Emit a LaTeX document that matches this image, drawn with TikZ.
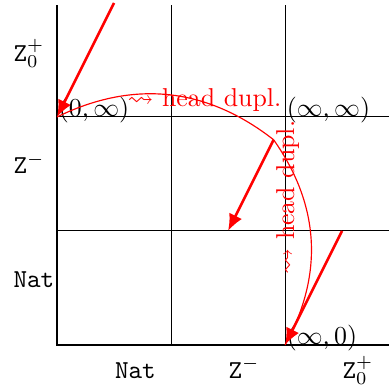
\documentclass[tikz,border=0pt]{standalone}
\usepackage{amssymb}
\usetikzlibrary{arrows.meta}
\begin{document}
\begin{tikzpicture}[x=1.55cm,y=1.55cm,
  gridline/.style={line width=0.4pt,black},
  axisline/.style={line width=0.9pt,black},
  movearrow/.style={red,line width=1pt,-{Latex[length=6.5pt,width=5.5pt]}},
  dupcurve/.style={red,line width=0.45pt},
  ptlabel/.style={anchor=base west,inner sep=0pt,xshift=0.5pt},
  axlabel/.style={anchor=base west,inner sep=0pt},
  duplabel/.style={anchor=base west,inner sep=0pt,red}]
\useasboundingbox (-0.5,-0.368) rectangle (2.912,3.026);
% grid
\coordinate (O) at (0,0);
\coordinate (Otop) at (0,2.98);
\coordinate (Oright) at (2.95,0);
\coordinate (X1) at (1,0);
\coordinate (X1t) at (1,2.98);
\coordinate (X2) at (2,0);
\coordinate (X2t) at (2,2.98);
\coordinate (Y1) at (0,1);
\coordinate (Y1r) at (2.95,1);
\coordinate (Y2) at (0,2);
\coordinate (Y2r) at (2.95,2);
\draw[gridline] (X1) -- (X1t);
\draw[gridline] (X2) -- (X2t);
\draw[gridline] (Y1) -- (Y1r);
\draw[gridline] (Y2) -- (Y2r);
\draw[axisline] (Otop) -- (O) -- (Oright);
% axis labels
\node[axlabel] (l1) at (-0.386,0.5) {\texttt{Nat}};
\node[axlabel] (l2) at (-0.386,1.5) {$\mathtt{Z}^{-}$};
\node[axlabel] (l3) at (-0.386,2.49) {$\mathtt{Z}_0^{+}$};
\node[axlabel] (b1) at (0.505,-0.29) {\texttt{Nat}};
\node[axlabel] (b2) at (1.5,-0.29) {$\mathtt{Z}^{-}$};
\node[axlabel] (b3) at (2.5,-0.29) {$\mathtt{Z}_0^{+}$};
% points
\coordinate (A) at (0,2);
\coordinate (B) at (2,2);
\coordinate (C) at (2,0);
\node[ptlabel] (la) at (A) {$(0,\infty)$};
\node[ptlabel] (lb) at (B) {$(\infty,\infty)$};
\node[ptlabel] (lc) at (C) {$(\infty,0)$};
% red moves
\coordinate (S1) at (0.5,3);
\coordinate (P) at (1.9,1.8);
\coordinate (E2) at (1.5,1);
\coordinate (S3) at (2.5,1);
\draw[dupcurve] (P) to[bend right=32] (A);
\draw[dupcurve] (P) to[bend left=32] (C);
\draw[movearrow] (S1) -- (A);
\draw[movearrow] (P) -- (E2);
\draw[movearrow] (S3) -- (C);
\node[duplabel] (d1) at (0.615,2.095) {$\leadsto$ head dupl.};
\node[duplabel,rotate=90] (d2) at (2.08,0.615) {$\leadsto$ head dupl.};
\end{tikzpicture}
\end{document}
